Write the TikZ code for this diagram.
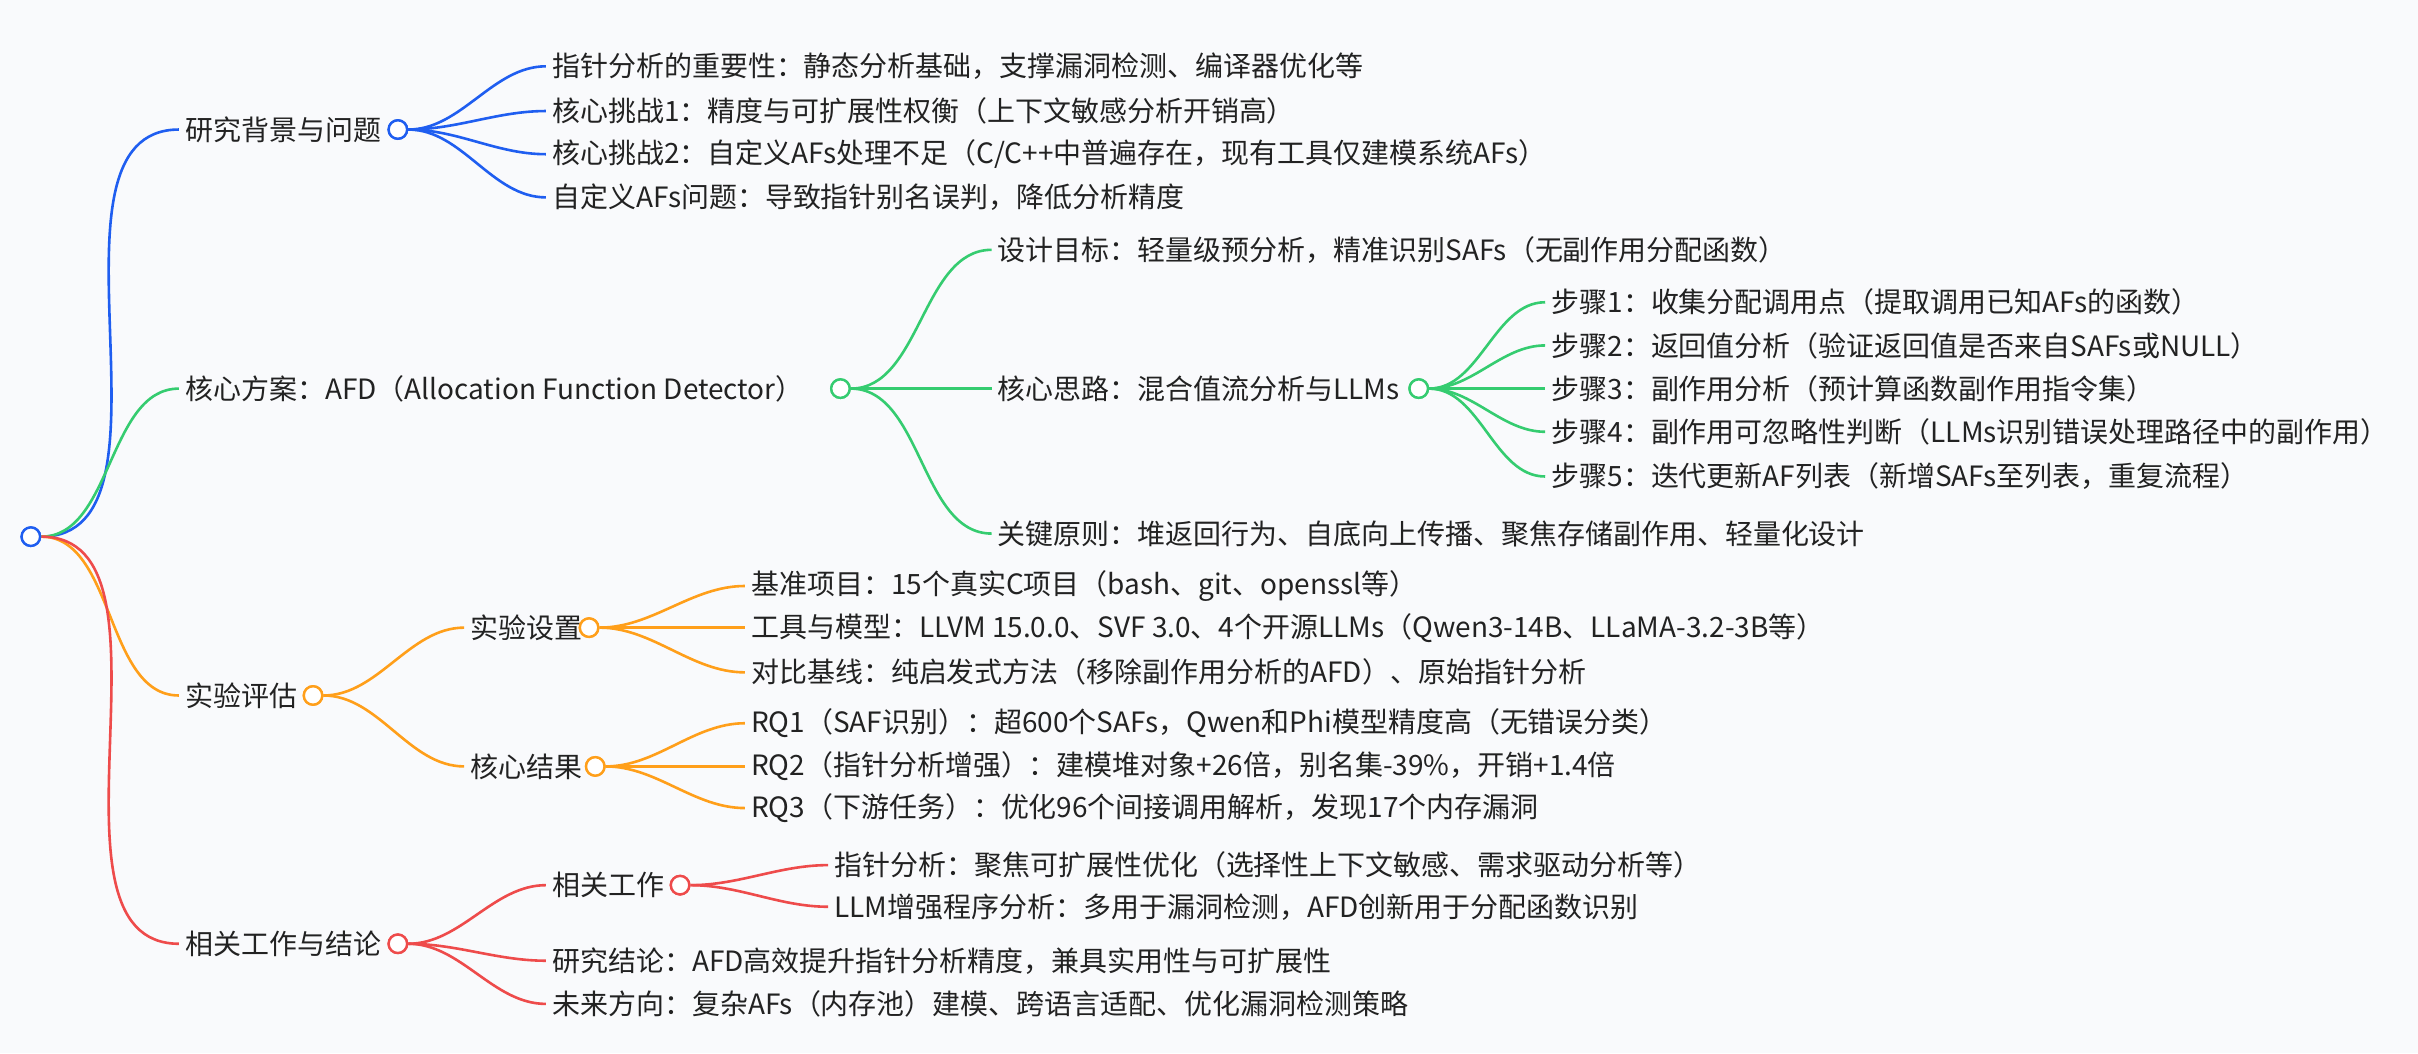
\documentclass[tikz,border=0pt]{standalone}
\usepackage{fontspec}
\setmainfont{Noto Sans CJK SC}
\definecolor{cb}{HTML}{1F5EF0}
\definecolor{cg}{HTML}{35CC70}
\definecolor{co}{HTML}{FF9F1A}
\definecolor{cr}{HTML}{EE4B4B}
\definecolor{bg}{HTML}{F9FAFC}
\definecolor{tx}{HTML}{222222}
\begin{document}
\begin{tikzpicture}[x=0.5mm,y=-0.5mm,
  lbl/.style={anchor=west,inner xsep=2mm,inner ysep=0pt,text=tx,font=\fontsize{25.8}{30}\selectfont},
  dot/.style={circle,draw=#1,fill=white,line width=2.2pt,minimum size=6mm,inner sep=0pt},
  br/.style={draw=#1,line width=2.4pt,out=0,in=180,looseness=0.9}]
\fill[bg] (0,0) rectangle (1568,683);
\useasboundingbox (0,0) rectangle (1568,683);
% root
\node[dot=cb] (root) at (20,348) {};
% level 1
\node[lbl] (a) at (116,84) {研究背景与问题};
\node[dot=cb] (ad) at (258,84) {};
\node[lbl] (b) at (116,252) {核心方案：AFD（Allocation Function Detector）};
\node[dot=cg] (bd) at (545,252) {};
\node[lbl] (c) at (116,451) {实验评估};
\node[dot=co] (cd) at (203,451) {};
\node[lbl] (d) at (116,612) {相关工作与结论};
\node[dot=cr] (dd) at (258,612) {};
\draw[br=cb] (root.east) to (a.west);
\draw[br=cg] (root.east) to (b.west);
\draw[br=co] (root.east) to (c.west);
\draw[br=cr] (root.east) to (d.west);
% blue children
\node[lbl] (a1) at (354,43) {指针分析的重要性：静态分析基础，支撑漏洞检测、编译器优化等};
\node[lbl] (a2) at (354,72) {核心挑战1：精度与可扩展性权衡（上下文敏感分析开销高）};
\node[lbl] (a3) at (354,100) {核心挑战2：自定义AFs处理不足（C/C++中普遍存在，现有工具仅建模系统AFs）};
\node[lbl] (a4) at (354,128) {自定义AFs问题：导致指针别名误判，降低分析精度};
\foreach \n in {a1,a2,a3,a4} \draw[br=cb] (ad.east) to (\n.west);
% green children
\node[lbl] (b1) at (643,162) {设计目标：轻量级预分析，精准识别SAFs（无副作用分配函数）};
\node[lbl] (b2) at (643,252) {核心思路：混合值流分析与LLMs};
\node[dot=cg] (b2d) at (920,252) {};
\node[lbl] (b3) at (643,346) {关键原则：堆返回行为、自底向上传播、聚焦存储副作用、轻量化设计};
\foreach \n in {b1,b2,b3} \draw[br=cg] (bd.east) to (\n.west);
\node[lbl] (s1) at (1002,196) {步骤1：收集分配调用点（提取调用已知AFs的函数）};
\node[lbl] (s2) at (1002,224) {步骤2：返回值分析（验证返回值是否来自SAFs或NULL）};
\node[lbl] (s3) at (1002,252) {步骤3：副作用分析（预计算函数副作用指令集）};
\node[lbl] (s4) at (1002,280) {步骤4：副作用可忽略性判断（LLMs识别错误处理路径中的副作用）};
\node[lbl] (s5) at (1002,309) {步骤5：迭代更新AF列表（新增SAFs至列表，重复流程）};
\foreach \n in {s1,s2,s3,s4,s5} \draw[br=cg] (b2d.east) to (\n.west);
% orange children
\node[lbl] (c1) at (301,407) {实验设置};
\node[dot=co] (c1d) at (382,407) {};
\node[lbl] (c2) at (301,497) {核心结果};
\node[dot=co] (c2d) at (386,497) {};
\foreach \n in {c1,c2} \draw[br=co] (cd.east) to (\n.west);
\node[lbl] (e1) at (483,380) {基准项目：15个真实C项目（bash、git、openssl等）};
\node[lbl] (e2) at (483,407) {工具与模型：LLVM 15.0.0、SVF 3.0、4个开源LLMs（Qwen3-14B、LLaMA-3.2-3B等）};
\node[lbl] (e3) at (483,436) {对比基线：纯启发式方法（移除副作用分析的AFD）、原始指针分析};
\foreach \n in {e1,e2,e3} \draw[br=co] (c1d.east) to (\n.west);
\node[lbl] (r1) at (483,469) {RQ1（SAF识别）：超600个SAFs，Qwen和Phi模型精度高（无错误分类）};
\node[lbl] (r2) at (483,497) {RQ2（指针分析增强）：建模堆对象+26倍，别名集-39\%，开销+1.4倍};
\node[lbl] (r3) at (483,524) {RQ3（下游任务）：优化96个间接调用解析，发现17个内存漏洞};
\foreach \n in {r1,r2,r3} \draw[br=co] (c2d.east) to (\n.west);
% red children
\node[lbl] (d1) at (354,574) {相关工作};
\node[dot=cr] (d1d) at (441,574) {};
\node[lbl] (d2) at (354,623) {研究结论：AFD高效提升指针分析精度，兼具实用性与可扩展性};
\node[lbl] (d3) at (354,651) {未来方向：复杂AFs（内存池）建模、跨语言适配、优化漏洞检测策略};
\foreach \n in {d1,d2,d3} \draw[br=cr] (dd.east) to (\n.west);
\node[lbl] (w1) at (537,561) {指针分析：聚焦可扩展性优化（选择性上下文敏感、需求驱动分析等）};
\node[lbl] (w2) at (537,588) {LLM增强程序分析：多用于漏洞检测，AFD创新用于分配函数识别};
\foreach \n in {w1,w2} \draw[br=cr] (d1d.east) to (\n.west);
% redraw dots on top
\foreach \n/\c in {root/cb,ad/cb,bd/cg,cd/co,dd/cr,b2d/cg,c1d/co,c2d/co,d1d/cr}
  \node[dot=\c] at (\n) {};
\end{tikzpicture}
\end{document}
